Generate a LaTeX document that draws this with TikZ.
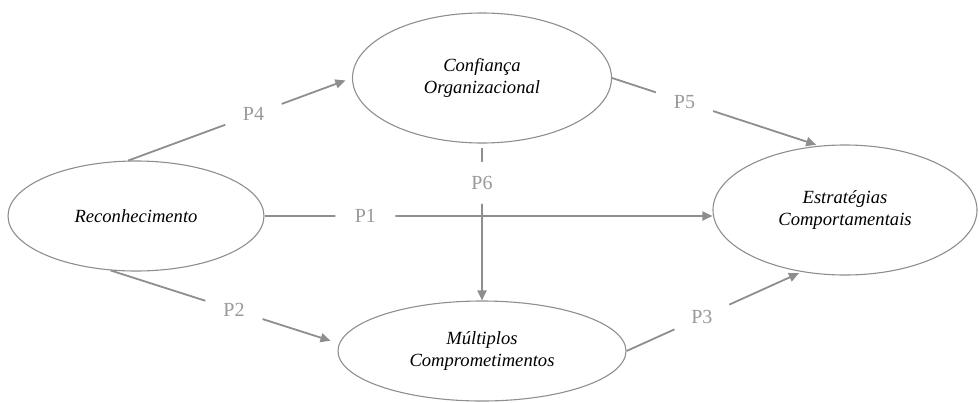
\documentclass[tikz,border=0pt]{standalone}
\usepackage{fontspec}
\setmainfont{Liberation Serif}
\usetikzlibrary{shapes.geometric,arrows.meta}
\definecolor{linegray}{HTML}{8E8E8E}
\definecolor{labelgray}{HTML}{9A9A9A}
\begin{document}
\begin{tikzpicture}[
    x=1pt, y=-1pt,
    construct/.style={
        ellipse, draw=linegray, line width=1.1pt, inner sep=0pt,
        font=\fontsize{18.6}{22.5}\selectfont\itshape, align=center
    },
    plabel/.style={
        circle, fill=white, inner sep=0pt, minimum size=60pt,
        font=\fontsize{20}{24}\selectfont, text=labelgray
    },
    arrowstyle/.style={
        -{Triangle[length=10pt,width=9pt]}, line width=1.8pt, linegray
    }
]
\useasboundingbox (0,0) rectangle (979,402);

% Constructs
\node[construct, minimum width=256pt, minimum height=110pt] (rec)  at (136,216) {Reconhecimento};
\node[construct, minimum width=259pt, minimum height=130pt] (conf) at (482,78)  {Confiança\\Organizacional};
\node[construct, minimum width=264pt, minimum height=130pt] (est)  at (845,210) {Estratégias\\Comportamentais};
\node[construct, minimum width=288pt, minimum height=100pt] (mult) at (482,351) {Múltiplos\\Comprometimentos};

% Hypotheses
\draw[arrowstyle, shorten >=7pt] (rec.98)   -- node[plabel, pos=0.56] {P4} (conf.west);
\draw[arrowstyle, shorten >=3pt] (conf.east) -- node[plabel, pos=0.35] {P5} (est.112);
\draw[arrowstyle] (rec.east) -- node[plabel, pos=0.225] {P1} (rec.east -| est.west);
\draw[arrowstyle, shorten <=4pt] (conf.south) -- node[plabel, minimum size=42pt, pos=0.25] {P6} (mult.north);
\draw[arrowstyle, shorten >=9pt] (rec.-115) -- node[plabel, pos=0.54] {P2} (mult.177);
\draw[arrowstyle, shorten >=3pt] (mult.east) -- node[plabel, pos=0.43] {P3} (est.-125);

\end{tikzpicture}
\end{document}
